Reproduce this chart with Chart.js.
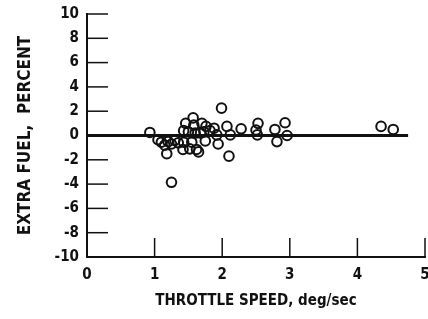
<!DOCTYPE html>
<html>
<head>
<meta charset="utf-8">
<script src="https://cdn.jsdelivr.net/npm/chart.js@4"></script>
<style>
  html, body { margin: 0; padding: 0; background: #fff; overflow: hidden; }
  #wrap { width: 440px; height: 319px; }
</style>
</head>
<body>
<div id="wrap"><canvas id="fuel-chart"></canvas></div>
<script>
const speeds = [0.93, 1.05, 1.1, 1.15, 1.2, 1.25, 1.3, 1.18, 1.25, 1.35, 1.42, 1.43, 1.43, 1.46, 1.5,
  1.52, 1.55, 1.57, 1.58, 1.6, 1.62, 1.65, 1.68, 1.7, 1.73, 1.76, 1.75, 1.82, 1.88, 1.92,
  1.94, 1.99, 2.07, 2.1, 2.12, 2.28, 2.5, 2.53, 2.52, 2.78, 2.81, 2.93, 2.96, 4.35, 4.53];
const extraFuel = [0.25, -0.35, -0.55, -0.8, -0.5, -0.7, -0.4, -1.5, -3.85, -0.6, -1.15, -0.55, 0.4, 1.0, 0.3,
  -1.1, -0.55, 1.45, 0.85, 0.2, -1.15, -1.35, 0.2, 1.0, 0.3, 0.75, -0.45, 0.4, 0.6, 0.05,
  -0.7, 2.25, 0.75, -1.7, 0.05, 0.55, 0.45, 1.0, 0.05, 0.5, -0.5, 1.05, 0.0, 0.75, 0.5];
const zeroLineX = [0, 4.75];
const xTicks = [0, 1, 2, 3, 4, 5];
const yTicks = [-10, -8, -6, -4, -2, 0, 2, 4, 6, 8, 10];

const ink = "#111";
const font = "'DejaVu Sans Condensed', 'Liberation Sans Narrow', sans-serif";

// ticks point into the plot, like the original drawing
const innerTicks = {
  id: "innerTicks",
  afterDatasetsDraw(chart) {
    const { ctx, chartArea, scales } = chart;
    ctx.save();
    ctx.strokeStyle = ink;
    ctx.lineWidth = 1.5;
    yTicks.forEach((v) => {
      const y = scales.y.getPixelForValue(v);
      ctx.beginPath();
      ctx.moveTo(chartArea.left, y);
      ctx.lineTo(chartArea.left + 21, y);
      ctx.stroke();
    });
    xTicks.forEach((v) => {
      const x = scales.x.getPixelForValue(v);
      ctx.beginPath();
      ctx.moveTo(x, chartArea.bottom);
      ctx.lineTo(x, chartArea.bottom - 19);
      ctx.stroke();
    });
    ctx.restore();
  },
};

new Chart(document.getElementById("fuel-chart"), {
  type: "scatter",
  data: {
    datasets: [
      {
        data: speeds.map((s, i) => ({ x: s, y: extraFuel[i] })),
        pointStyle: "circle",
        pointRadius: 4.8,
        pointBorderWidth: 2,
        pointBorderColor: ink,
        pointBackgroundColor: "rgba(0,0,0,0)",
      },
      {
        type: "line",
        data: zeroLineX.map((x) => ({ x: x, y: 0 })),
        borderColor: ink,
        borderWidth: 3,
        pointRadius: 0,
      },
    ],
  },
  options: {
    responsive: true,
    maintainAspectRatio: false,
    animation: false,
    layout: { padding: { top: 0, right: 15, left: 0, bottom: 0 } },
    plugins: { legend: { display: false }, tooltip: { enabled: false } },
    scales: {
      x: {
        type: "linear",
        min: 0,
        max: 5,
        afterBuildTicks: (scale) => { scale.ticks = xTicks.map((v) => ({ value: v })); },
        afterFit: (scale) => { scale.height = 62; },
        grid: { display: false, drawTicks: false },
        border: { color: ink, width: 2 },
        ticks: { color: ink, padding: 9, autoSkip: false, font: { family: font, size: 15, weight: "bold" } },
        title: {
          display: true,
          text: "THROTTLE SPEED, deg/sec",
          color: ink,
          padding: { top: 0, bottom: 9 },
          font: { family: font, size: 15, weight: "bold" },
        },
      },
      y: {
        min: -10,
        max: 10,
        afterBuildTicks: (scale) => { scale.ticks = yTicks.map((v) => ({ value: v })); },
        afterFit: (scale) => {
          scale.width = 87;
          scale.paddingTop = 14;
        },
        grid: { display: false, drawTicks: false },
        border: { color: ink, width: 2 },
        ticks: { color: ink, padding: 8, autoSkip: false, font: { family: font, size: 15, weight: "bold" } },
        title: {
          display: true,
          text: "EXTRA FUEL,  PERCENT",
          color: ink,
          padding: { top: 15, bottom: 0 },
          font: { family: font, size: 17, weight: "bold" },
        },
      },
    },
  },
  plugins: [innerTicks],
});
</script>
</body>
</html>
